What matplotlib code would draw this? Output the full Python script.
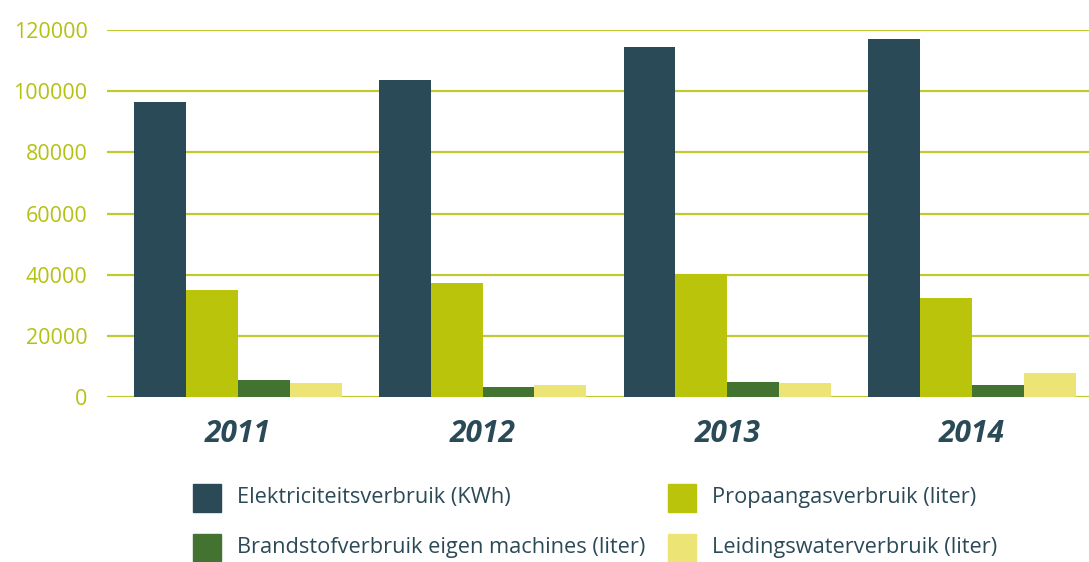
import matplotlib
matplotlib.use("Agg")
import matplotlib.pyplot as plt
from matplotlib.patches import Rectangle
import numpy as np

plt.rcParams['font.family'] = ['Open Sans', 'DejaVu Sans']

years = ["2011", "2012", "2013", "2014"]
series_names = [
    "Elektriciteitsverbruik (KWh)",
    "Propaangasverbruik (liter)",
    "Brandstofverbruik eigen machines (liter)",
    "Leidingswaterverbruik (liter)",
]
elektriciteit = [96600, 103800, 114300, 117200]
propaangas = [34900, 37200, 40100, 32300]
brandstof = [5500, 3300, 4900, 3900]
leidingswater = [4600, 3900, 4600, 7800]
yticks = [0, 20000, 40000, 60000, 80000, 100000, 120000]

values = [elektriciteit, propaangas, brandstof, leidingswater]
colors = ["#2b4a57", "#b9c40a", "#437331", "#ece474"]
grid_color = "#c0ca30"
tick_color = "#b5c112"
text_color = "#2b4a57"

W, H = 1089, 562
fig = plt.figure(figsize=(W / 100, H / 100), dpi=100)
ax = fig.add_axes([107 / W, 1 - 397 / H, 1 - 107 / W, (397 - 30) / H])

x = np.arange(len(years))
bw = 0.212
for i, (vals, c) in enumerate(zip(values, colors)):
    ax.bar(x + (i - 1.5) * bw, vals, width=bw, color=c, zorder=3, linewidth=0)

ax.set_ylim(0, 120000)
ax.set_xlim(-0.535, 3.478)
ax.set_yticks(yticks)
ax.set_yticklabels([str(v) for v in yticks])
ax.yaxis.grid(True, color=grid_color, linewidth=1.6, zorder=0)
ax.set_axisbelow(True)
for s in ax.spines.values():
    s.set_visible(False)
ax.tick_params(axis='y', length=0, pad=14, labelsize=15.5, labelcolor=tick_color)
ax.set_xticks(x)
ax.set_xticklabels(years)
ax.tick_params(axis='x', length=0, pad=16, labelsize=21.5, labelcolor=text_color)
for lab in ax.get_xticklabels():
    lab.set_fontweight('bold')
    lab.set_fontstyle('italic')

# legend
pos = [(193, 484), (668, 484), (193, 534), (668, 534)]
for (px, py), name, c in zip(pos, series_names, colors):
    fig.patches.append(Rectangle((px / W, 1 - (py + 28) / H), 28 / W, 28 / H,
                                 transform=fig.transFigure, color=c, figure=fig))
    fig.text((px + 44) / W, 1 - (py + 14) / H, name, fontsize=15.7, color=text_color,
             va='center', ha='left')

fig.savefig("out.png", dpi=100)
